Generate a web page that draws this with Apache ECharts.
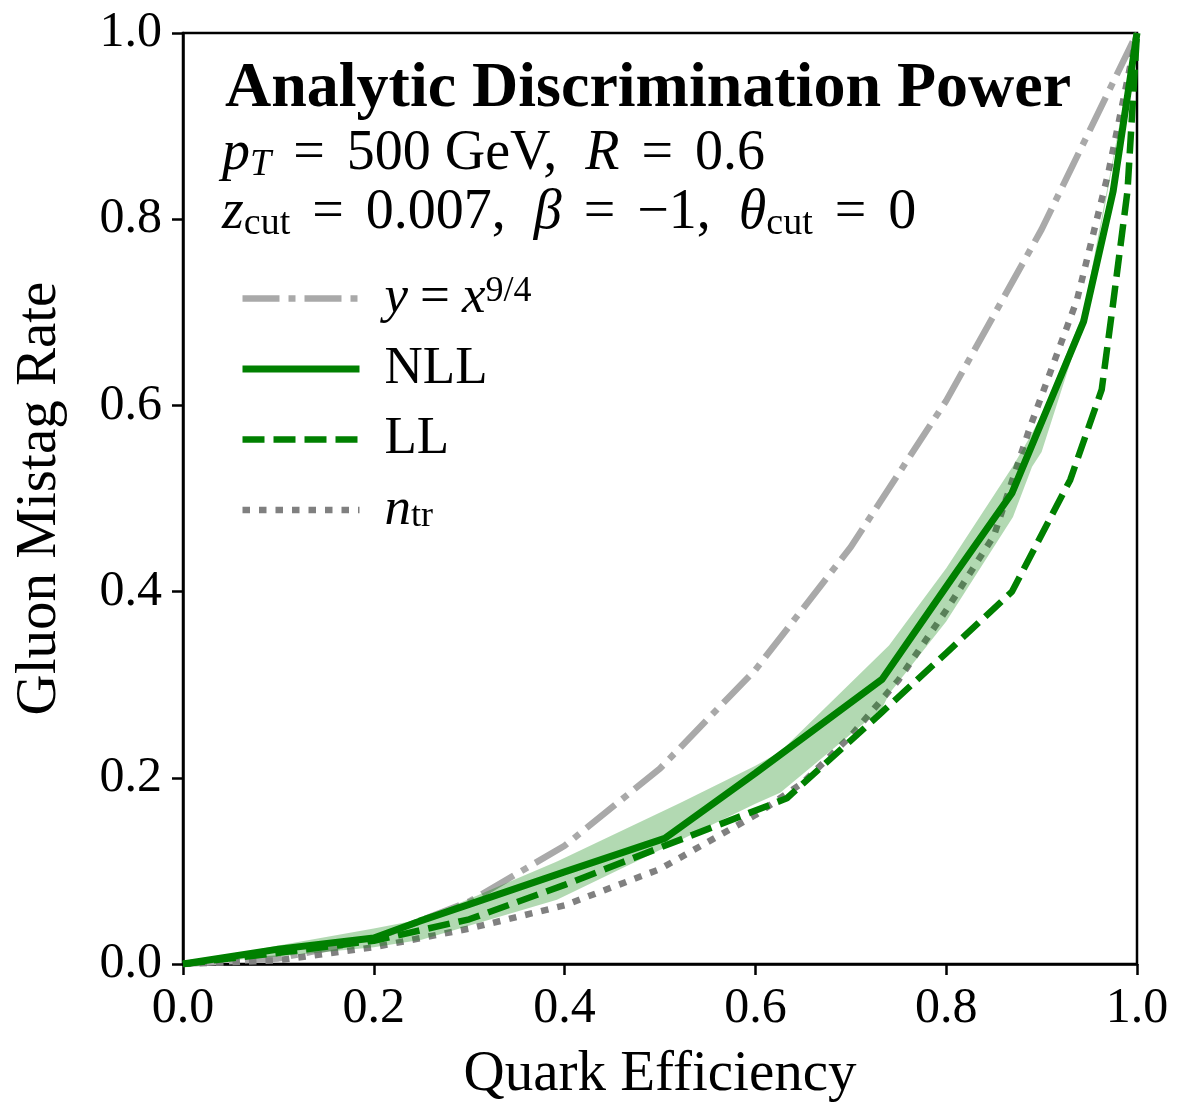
<!DOCTYPE html>
<html>
<head>
<meta charset="utf-8">
<script src="https://cdn.jsdelivr.net/npm/echarts@6/dist/echarts.min.js"></script>
<style>html,body{margin:0;padding:0;background:#fff;}#c{width:1177px;height:1102px;}</style>
</head>
<body>
<div id="c"></div>
<script>
// ---- data ----
const xTicks = [0.0, 0.2, 0.4, 0.6, 0.8, 1.0];
const yTicks = [0.0, 0.2, 0.4, 0.6, 0.8, 1.0];

const powX = [0, 0.1, 0.2, 0.3, 0.4, 0.5, 0.6, 0.7, 0.8, 0.9, 1.0];
const powY = [0, 0.006, 0.027, 0.067, 0.127, 0.21, 0.316, 0.448, 0.605, 0.789, 1.0];

const nllX = [0, 0.1, 0.2, 0.248, 0.3, 0.4, 0.505, 0.6, 0.733, 0.81, 0.869, 0.944, 0.975, 1.0];
const nllY = [0, 0.016, 0.028, 0.046, 0.064, 0.099, 0.135, 0.205, 0.306, 0.42, 0.506, 0.69, 0.83, 1.0];

const llX = [0, 0.1, 0.2, 0.3, 0.4, 0.5, 0.633, 0.73, 0.8, 0.869, 0.93, 0.963, 0.975, 0.99, 1.0];
const llY = [0, 0.012, 0.025, 0.048, 0.085, 0.125, 0.178, 0.268, 0.334, 0.40, 0.52, 0.617, 0.71, 0.83, 1.0];

const ntrX = [0, 0.1, 0.2, 0.3, 0.4, 0.5, 0.6, 0.65, 0.7, 0.75, 0.8, 0.85, 0.888, 0.937, 0.97, 1.0];
const ntrY = [0, 0.004, 0.018, 0.038, 0.063, 0.102, 0.16, 0.195, 0.245, 0.305, 0.38, 0.46, 0.577, 0.713, 0.85, 1.0];

const bandX  = [0, 0.1, 0.2, 0.25, 0.392, 0.521, 0.6, 0.626, 0.733, 0.74, 0.8, 0.87, 0.89, 0.9, 0.944, 1.0];
const bandLo = [0, 0.008, 0.018, 0.026, 0.069, 0.133, 0.172, 0.184, 0.275, 0.29, 0.368, 0.48, 0.534, 0.55, 0.69, 1.0];
const bandHi = [0, 0.02, 0.038, 0.048, 0.110, 0.173, 0.213, 0.228, 0.335, 0.342, 0.425, 0.535, 0.57, 0.59, 0.70, 1.0];

const pairs = (xs, ys) => xs.map((x, i) => [x, ys[i]]);

const FF = '"Liberation Serif", "Times New Roman", serif';
const GREEN = '#008000';

const chart = echarts.init(document.getElementById('c'), null, {renderer: 'canvas'});

const legendRich = {
  n: {fontFamily: FF, fontSize: 53, lineHeight: 50, color: '#000'},
  i: {fontFamily: FF, fontSize: 53, lineHeight: 50, fontStyle: 'italic', color: '#000'},
  eq: {fontFamily: FF, fontSize: 53, lineHeight: 50, color: '#000', padding: [0, 12, 0, 12]},
  sup: {fontFamily: FF, fontSize: 36, lineHeight: 10, verticalAlign: 'top', color: '#000'},
  sub: {fontFamily: FF, fontSize: 36, lineHeight: 32, verticalAlign: 'bottom', color: '#000'}
};
const legendLabel = {
  pow: '{i|y}{eq|=}{i|x}{sup|9/4}',
  NLL: '{n|NLL}',
  LL: '{n|LL}',
  ntr: '{i|n}{sub|tr}'
};

const mainRich = {
  n: {fontFamily: FF, fontSize: 56, lineHeight: 60, color: '#000'},
  i: {fontFamily: FF, fontSize: 56, lineHeight: 60, fontStyle: 'italic', color: '#000'},
  eq: {fontFamily: FF, fontSize: 56, lineHeight: 60, color: '#000', padding: [0, 22, 0, 22]},
  subT: {fontFamily: FF, fontSize: 38, lineHeight: 40, fontStyle: 'italic', verticalAlign: 'bottom', color: '#000'},
  sub: {fontFamily: FF, fontSize: 38, lineHeight: 26, verticalAlign: 'bottom', color: '#000'}
};

const option = {
  animation: false,
  backgroundColor: '#fff',
  grid: {left: 183, top: 33, right: 40, bottom: 138, outerBoundsMode: 'none', containLabel: false,
    show: true, borderColor: '#000', borderWidth: 2.5, backgroundColor: 'transparent'},
  xAxis: {
    type: 'value', min: 0, max: 1, interval: 0.2,
    name: 'Quark Efficiency', nameLocation: 'middle', nameGap: 83,
    nameTextStyle: {fontFamily: FF, fontSize: 57, color: '#000'},
    axisLine: {show: true, lineStyle: {color: '#000', width: 2.5}},
    axisTick: {show: true, inside: false, length: 11, lineStyle: {color: '#000', width: 2.5}},
    axisLabel: {fontFamily: FF, fontSize: 50, color: '#000', margin: 20,
      formatter: v => xTicks.find(t => Math.abs(t - v) < 1e-9).toFixed(1)},
    splitLine: {show: false}
  },
  yAxis: {
    type: 'value', min: 0, max: 1, interval: 0.2,
    name: 'Gluon Mistag Rate', nameLocation: 'middle', nameGap: 114, nameRotate: 90,
    nameTextStyle: {fontFamily: FF, fontSize: 57, color: '#000'},
    axisLine: {show: true, lineStyle: {color: '#000', width: 2.5}},
    axisTick: {show: true, inside: false, length: 11, lineStyle: {color: '#000', width: 2.5}},
    axisLabel: {fontFamily: FF, fontSize: 50, color: '#000', margin: 21,
      formatter: v => yTicks.find(t => Math.abs(t - v) < 1e-9).toFixed(1)},
    splitLine: {show: false}
  },
  legend: {
    orient: 'vertical', left: 239, top: 272, padding: 0,
    itemWidth: 117, itemHeight: 14, itemGap: 17.5,
    selectedMode: false,
    itemStyle: {opacity: 0},
    textStyle: {fontFamily: FF, fontSize: 53, color: '#000', padding: [0, 0, 0, 20], rich: legendRich},
    formatter: name => legendLabel[name],
    data: [
      {name: 'pow', lineStyle: {width: 6.5, color: '#a9a9a9', type: [37, 9, 7, 9]}},
      {name: 'NLL', lineStyle: {width: 7, color: GREEN, type: 'solid'}},
      {name: 'LL', lineStyle: {width: 6.5, color: GREEN, type: [22, 9]}},
      {name: 'ntr', lineStyle: {width: 6.5, color: '#808080', type: [7.5, 9]}}
    ]
  },
  graphic: [
    {type: 'text', x: 225, y: 89, z: 100,
      style: {text: 'Analytic Discrimination Power', fontFamily: FF, fontSize: 64, fontWeight: 'bold', fill: '#000', verticalAlign: 'middle'}},
    {type: 'text', x: 222, y: 124, z: 100,
      style: {text: '{i|p}{subT|T}{eq|=}{n|500 GeV,  }{i|R}{eq|=}{n|0.6}', rich: mainRich, verticalAlign: 'top', fill: '#000'}},
    {type: 'text', x: 222, y: 183, z: 100,
      style: {text: '{i|z}{sub|cut}{eq|=}{n|0.007,  }{i|β}{eq|=}{n|−1,  }{i|θ}{sub|cut}{eq|=}{n|0}', rich: mainRich, verticalAlign: 'top', fill: '#000'}}
  ],
  series: [
    {name: 'pow', type: 'line', data: pairs(powX, powY), symbol: 'none', z: 2,
      lineStyle: {color: '#a9a9a9', width: 6.5, type: [37, 9, 7, 9]}, itemStyle: {color: '#a9a9a9'}},
    {name: 'ntr', type: 'line', data: pairs(ntrX, ntrY), symbol: 'none', z: 3,
      lineStyle: {color: '#808080', width: 6.5, type: [7.5, 9]}, itemStyle: {color: '#808080'}},
    {name: 'band', type: 'custom', z: 4, silent: true,
      data: [0],
      renderItem: (params, api) => {
        const pts = [];
        for (let i = 0; i < bandX.length; i++) pts.push(api.coord([bandX[i], bandHi[i]]));
        for (let i = bandX.length - 1; i >= 0; i--) pts.push(api.coord([bandX[i], bandLo[i]]));
        return {type: 'polygon', shape: {points: pts}, style: {fill: 'rgba(0,128,0,0.3)', stroke: null}};
      }},
    {name: 'LL', type: 'line', data: pairs(llX, llY), symbol: 'none', z: 5,
      lineStyle: {color: GREEN, width: 6.5, type: [22, 9]}, itemStyle: {color: GREEN}},
    {name: 'NLL', type: 'line', data: pairs(nllX, nllY), symbol: 'none', z: 6,
      lineStyle: {color: GREEN, width: 7}, itemStyle: {color: GREEN}}
  ]
};
chart.setOption(option);
</script>
</body>
</html>
